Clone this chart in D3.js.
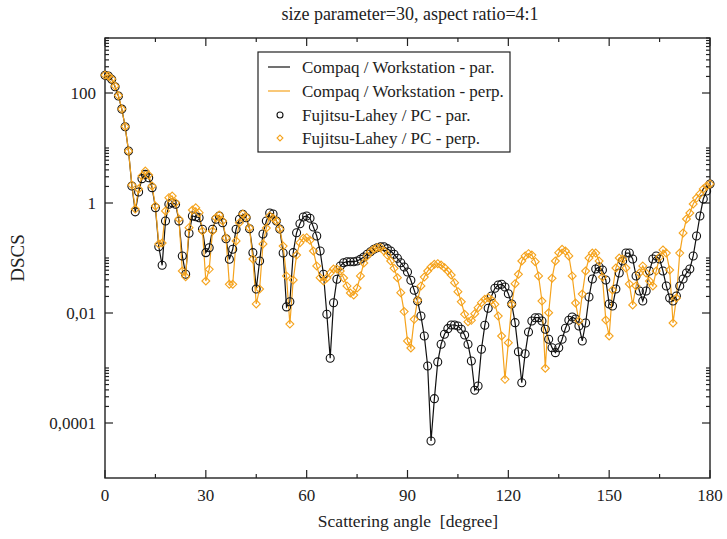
<!DOCTYPE html>
<html><head><meta charset="utf-8">
<script src="https://cdn.jsdelivr.net/npm/d3@7"></script>
<style>body{margin:0;background:#fff}text{font-family:"Liberation Serif","Times New Roman",serif;fill:#222}</style>
</head><body>
<svg id="c" width="727" height="539"></svg>
<script>
const angles = d3.range(0, 181);
const parValues = [210,204,177,130,88,51,24.4,8.8,2.04,0.69,
1.58,2.77,3.32,2.88,1.90,0.82,0.160,0.0736,0.471,0.947,
1.01,0.947,0.471,0.109,0.0506,0.281,0.58,0.563,0.54,0.333,
0.125,0.154,0.333,0.505,0.58,0.438,0.224,0.0947,0.144,0.333,
0.505,0.623,0.54,0.341,0.125,0.0273,0.0882,0.273,0.471,0.658,
0.631,0.471,0.337,0.123,0.0129,0.016,0.125,0.288,0.42,0.556,
0.58,0.527,0.366,0.251,0.134,0.0506,0.00947,0.0015,0.0154,0.041,
0.0716,0.0822,0.0857,0.0857,0.0857,0.0882,0.0947,0.104,0.117,0.13,
0.144,0.154,0.16,0.16,0.148,0.134,0.117,0.0988,0.0822,0.0686,
0.0556,0.0393,0.0259,0.0165,0.00881,0.00382,0.00109,0.0000471,0.000277,0.00129,
0.0027,0.0041,0.00519,0.00605,0.00605,0.0058,0.00506,0.00398,0.0027,0.00134,
0.000393,0.000471,0.00219,0.00597,0.0122,0.0204,0.0281,0.0323,0.0333,0.0297,
0.0224,0.0146,0.00667,0.00198,0.00054,0.00182,0.00452,0.00716,0.00822,0.00822,
0.00716,0.00506,0.00333,0.00234,0.0019,0.00234,0.00333,0.00527,0.00736,0.00845,
0.00778,0.0058,0.0031,0.00658,0.0195,0.0415,0.0631,0.0686,0.0605,0.0398,
0.0146,0.0134,0.0273,0.0533,0.0882,0.123,0.123,0.0959,0.0471,0.0251,
0.0165,0.0251,0.058,0.0959,0.109,0.0959,0.058,0.031,0.0187,0.0165,
0.0204,0.031,0.0415,0.0533,0.0631,0.109,0.251,0.58,1.18,1.65,
2.22];
const perpValues = [212,204,180,134,90,51,24.6,8.8,2.12,0.778,
1.8,3.1,3.82,3.23,2.04,0.882,0.18,0.187,0.716,1.25,
1.34,1.01,0.512,0.058,0.0457,0.356,0.746,0.82,0.667,0.31,
0.0382,0.0623,0.31,0.54,0.605,0.471,0.231,0.0333,0.0333,0.204,
0.438,0.631,0.556,0.351,0.0959,0.0146,0.0273,0.18,0.351,0.58,
0.534,0.471,0.337,0.165,0.0471,0.0063,0.0398,0.113,0.19,0.228,
0.234,0.21,0.134,0.0716,0.0438,0.0382,0.0433,0.0533,0.0631,0.0631,
0.058,0.0433,0.031,0.0231,0.0212,0.0285,0.0471,0.0811,0.109,0.13,
0.144,0.154,0.154,0.134,0.113,0.0882,0.065,0.0438,0.0234,0.0106,
0.0031,0.00231,0.00768,0.017,0.031,0.0451,0.058,0.0686,0.0768,0.0788,
0.0746,0.0667,0.058,0.0491,0.0356,0.0244,0.016,0.00947,0.00695,0.00736,
0.0097,0.0125,0.0154,0.0177,0.019,0.0172,0.0144,0.00881,0.00382,0.000623,
0.00288,0.0144,0.0341,0.0506,0.0882,0.109,0.12,0.113,0.0857,0.0471,
0.0165,0.00099,0.0101,0.0428,0.0882,0.125,0.144,0.134,0.109,0.0471,
0.0152,0.00716,0.0221,0.058,0.1,0.123,0.123,0.0882,0.0451,0.00746,
0.00382,0.0262,0.0658,0.1,0.0959,0.0658,0.0337,0.014,0.031,0.0533,
0.0716,0.0533,0.0382,0.031,0.058,0.104,0.14,0.123,0.0605,0.00658,
0.0187,0.123,0.285,0.512,0.658,0.959,1.23,1.46,1.8,2.04,
2.22];
const xMajorTicks = [0,30,60,90,120,150,180];
const xMinorTicks = [15,45,75,105,135,165];
const yMajorTicks = [1e-4,1e-2,1,100];
const yTickLabels = ["0,0001","0,01","1","100"];
const yMinorMultipliers = [2,3,4,5,6,7,8,9,10];
const yMinorBases = [1e-6,1e-4,1e-2,1,100];
const legendLabels = ["Compaq / Workstation - par.","Compaq / Workstation - perp.","Fujitsu-Lahey / PC - par.","Fujitsu-Lahey / PC - perp."];
const titleText = "size parameter=30, aspect ratio=4:1";
const xTitle = "Scattering angle  [degree]";
const yTitle = "DSCS";

const black = "#111", orange = "#f5a31d";
const L = 105, R = 710, T = 38, B = 478;
const svg = d3.select("#c");
const x = d3.scaleLinear().domain([0,180]).range([L,R]);
const y = d3.scaleLog().domain([1e-5,1e3]).range([B,T]);

svg.append("rect").attr("x",L).attr("y",T).attr("width",R-L).attr("height",B-T)
  .attr("fill","none").attr("stroke","#222").attr("stroke-width",1.4);

const g = svg.append("g").attr("stroke","#222").attr("stroke-width",1.2);
const majLen = 8, minLen = 4;
xMajorTicks.forEach(v=>{
  g.append("line").attr("x1",x(v)).attr("x2",x(v)).attr("y1",B).attr("y2",B-majLen);
  g.append("line").attr("x1",x(v)).attr("x2",x(v)).attr("y1",T).attr("y2",T+majLen);
});
xMinorTicks.forEach(v=>{
  g.append("line").attr("x1",x(v)).attr("x2",x(v)).attr("y1",B).attr("y2",B-minLen);
  g.append("line").attr("x1",x(v)).attr("x2",x(v)).attr("y1",T).attr("y2",T+minLen);
});
yMajorTicks.forEach(v=>{
  g.append("line").attr("x1",L).attr("x2",L+majLen).attr("y1",y(v)).attr("y2",y(v));
  g.append("line").attr("x1",R).attr("x2",R-majLen).attr("y1",y(v)).attr("y2",y(v));
});
yMinorBases.forEach(b=>yMinorMultipliers.forEach(m=>{
  const v=b*m; if(v<1e-5||v>1e3) return;
  g.append("line").attr("x1",L).attr("x2",L+minLen).attr("y1",y(v)).attr("y2",y(v));
  g.append("line").attr("x1",R).attr("x2",R-minLen).attr("y1",y(v)).attr("y2",y(v));
}));

xMajorTicks.forEach(v=>svg.append("text").attr("x",x(v)).attr("y",501).attr("text-anchor","middle")
  .attr("font-size",17).text(v));
yMajorTicks.forEach((v,i)=>svg.append("text").attr("x",96).attr("y",y(v)+6).attr("text-anchor","end")
  .attr("font-size",17).text(yTickLabels[i]));

svg.append("text").attr("x",410).attr("y",20).attr("text-anchor","middle").attr("font-size",18).text(titleText);
svg.append("text").attr("x",408).attr("y",527).attr("text-anchor","middle").attr("font-size",17.5)
  .style("white-space","pre").text(xTitle);
svg.append("text").attr("transform","translate(24,258) rotate(-90)").attr("text-anchor","middle")
  .attr("font-size",19).text(yTitle);

const par = angles.map((a,i)=>({a,v:parValues[i]}));
const perp = angles.map((a,i)=>({a,v:perpValues[i]}));
const line = d3.line().x(d=>x(d.a)).y(d=>y(d.v));
const plot = svg.append("g");
plot.append("path").datum(par).attr("d",line).attr("fill","none").attr("stroke",black).attr("stroke-width",1.2);
plot.append("path").datum(perp).attr("d",line).attr("fill","none").attr("stroke",orange).attr("stroke-width",1.2);
plot.selectAll(".c").data(par).join("circle").attr("cx",d=>x(d.a)).attr("cy",d=>y(d.v)).attr("r",4)
  .attr("fill","none").attr("stroke",black).attr("stroke-width",1.1);
const dia = d3.symbol().type(d3.symbolDiamond2).size(40);
plot.selectAll(".d").data(perp).join("path").attr("transform",d=>`translate(${x(d.a)},${y(d.v)})`)
  .attr("d",dia).attr("fill","none").attr("stroke",orange).attr("stroke-width",1.1);

const lg = svg.append("g");
lg.append("rect").attr("x",258).attr("y",52).attr("width",252).attr("height",100)
  .attr("fill","#fff").attr("stroke","#222").attr("stroke-width",1.2);
const ly = [67,91,115,138];
lg.append("line").attr("x1",268).attr("x2",290).attr("y1",ly[0]).attr("y2",ly[0]).attr("stroke",black).attr("stroke-width",1.2);
lg.append("line").attr("x1",268).attr("x2",290).attr("y1",ly[1]).attr("y2",ly[1]).attr("stroke",orange).attr("stroke-width",1.2);
lg.append("circle").attr("cx",280).attr("cy",ly[2]).attr("r",3).attr("fill","none").attr("stroke",black).attr("stroke-width",1.1);
lg.append("path").attr("transform",`translate(280,${ly[3]})`).attr("d",d3.symbol().type(d3.symbolDiamond2).size(22))
  .attr("fill","none").attr("stroke",orange).attr("stroke-width",1.1);
legendLabels.forEach((t,i)=>lg.append("text").attr("x",302).attr("y",ly[i]+5.5).attr("font-size",17).text(t));
</script>
</body></html>
